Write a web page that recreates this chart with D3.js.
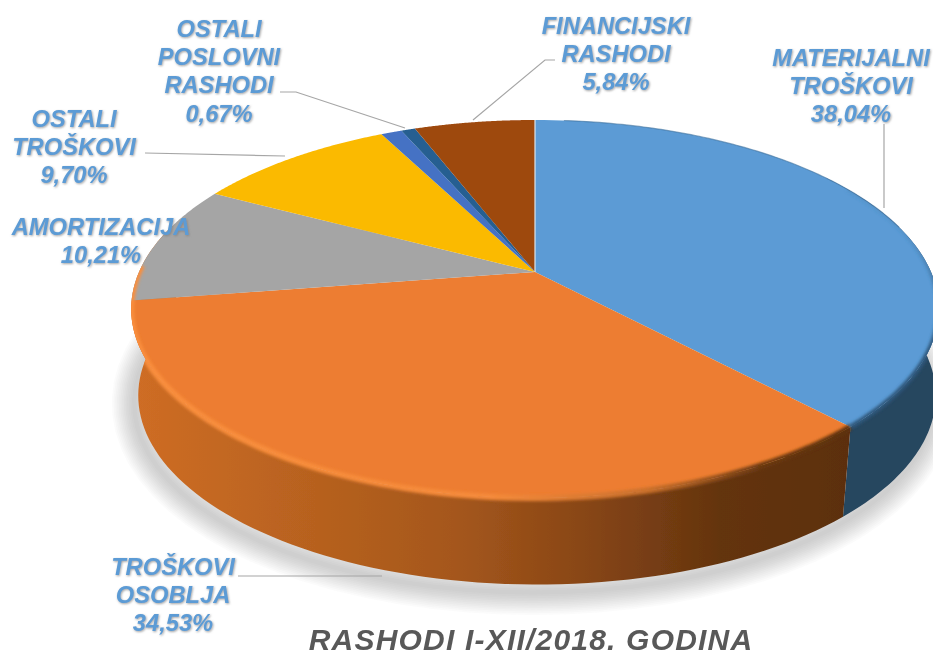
<!DOCTYPE html>
<html>
<head>
<meta charset="utf-8">
<script src="https://cdn.jsdelivr.net/npm/d3@7"></script>
<style>
html,body{margin:0;padding:0;background:#fff;overflow:hidden}
svg{display:block}
text{font-family:"Liberation Sans",Arial,sans-serif;font-weight:bold;font-style:italic}
</style>
</head>
<body>
<svg id="c" width="933" height="657"></svg>
<script>
// ---- data ----
const sliceNames = ["MATERIJALNI TROŠKOVI","TROŠKOVI OSOBLJA","AMORTIZACIJA","OSTALI TROŠKOVI","(bez oznake)","OSTALI POSLOVNI RASHODI","FINANCIJSKI RASHODI"];
const sliceValues = [38.04,34.53,10.21,9.70,1.01,0.67,5.84];
const sliceColors = ["#5B9BD5","#ED7D31","#A5A5A5","#FBBA00","#4472C4","#255E91","#9E480E"];
const titleText = "RASHODI I-XII/2018. GODINA";
const labelLines = [
  ["MATERIJALNI","TROŠKOVI","38,04%"],
  ["TROŠKOVI","OSOBLJA","34,53%"],
  ["AMORTIZACIJA","10,21%"],
  ["OSTALI","TROŠKOVI","9,70%"],
  ["OSTALI","POSLOVNI","RASHODI","0,67%"],
  ["FINANCIJSKI","RASHODI","5,84%"]
];

// ---- layout (not data) ----
const labelCentres = [[851,57],[173,566],[101,226],[74,118],[219,28],[616,25]];
const lineGap = 28.4;
const leaders = [
  [[884,124],[884,208]],
  [[238,576],[382,576]],
  [[145,153],[285,156]],
  [[280,92],[296,92],[405,128]],
  [[555,60],[545,60],[473,120]]
];
const apex = [535,272], topY = 120, frontY = 498, radiusX = 396;
const persp = (() => { const a = apex[1]-topY, b = frontY-apex[1]; return (b-a)/(b+a); })();
const radiusY = (apex[1]-topY)*(1+persp);
const wallDy = 86.5, wallScale = 0.9875, wallCx = 537;

const sx = d3.scaleLinear().domain([-1,1]).range([apex[0]-radiusX,apex[0]+radiusX]);
const sy = d3.scaleLinear().domain([-1,1]).range([apex[1]-radiusY,apex[1]+radiusY]);

// pie angle (clockwise from the top) onto the tilted disc; z = 0 top face, z = 1 bottom face
function project(angle, r, z){
  const u = Math.sin(angle)*r, v = -Math.cos(angle)*r, w = 1-persp*v;
  let x = sx(u/w), y = sy(v/w);
  if(z){ x = wallCx+(x-apex[0])*wallScale; y = y+wallDy; }
  return [x,y];
}
const samples = (a,b,n=90)=>d3.range(n+1).map(i=>a+(b-a)*i/n);
const line = d3.line();
const arcPts = (a,b,z)=>samples(a,b).map(t=>project(t,1,z));

const pie = d3.pie().sort(null).value(d=>d)(sliceValues);
const svg = d3.select("#c");
const defs = svg.append("defs");

function blur(id,sd){ defs.append("filter").attr("id",id).attr("filterUnits","userSpaceOnUse")
  .attr("x",-50).attr("y",-50).attr("width",1033).attr("height",757)
  .append("feGaussianBlur").attr("stdDeviation",sd); }
blur("bRim",1.8); blur("bSoft",0.45);
const ds = defs.append("filter").attr("id","txt").attr("x","-10%").attr("y","-20%").attr("width","120%").attr("height","140%");
ds.append("feDropShadow").attr("dx",0.8).attr("dy",1).attr("stdDeviation",0.9).attr("flood-color","#7a7a7a").attr("flood-opacity",0.7);

function hGrad(id,stops){
  const g = defs.append("linearGradient").attr("id",id).attr("gradientUnits","userSpaceOnUse")
    .attr("x1",130).attr("x2",850).attr("y1",0).attr("y2",0);
  stops.forEach(s=>g.append("stop").attr("offset",s[0]).attr("stop-color",s[1]));
}
hGrad("wallOrange",[[0,"#CF6D25"],[0.2,"#BC6420"],[0.45,"#A5571C"],[0.62,"#8A4716"],[0.82,"#64340F"],[1,"#5C2F0E"]]);
hGrad("rimOrange",[[0,"#F98E3C"],[0.5,"#F58A3A"],[0.72,"#C9702C"],[0.88,"#6A3810"],[1,"#5E320F"]]);
const vg = defs.append("linearGradient").attr("id","rimBlue").attr("gradientUnits","userSpaceOnUse")
  .attr("x1",0).attr("x2",0).attr("y1",230).attr("y2",350);
vg.append("stop").attr("offset",0).attr("stop-color","#3A6A94").attr("stop-opacity",0.15);
vg.append("stop").attr("offset",1).attr("stop-color","#2F577A").attr("stop-opacity",1);

const deg = Math.PI/180;
const seamTop = pie[0].endAngle, seamBottom = pie[0].endAngle+1.1*deg;
function wallPath(aTop,bTop,aBottom,bBottom){
  return line(arcPts(aTop,bTop,0).concat(arcPts(bBottom,aBottom,1)))+"Z";
}
const blueWallPath = wallPath(55*deg,seamTop,55*deg,seamBottom);
const orangeWallPath = wallPath(seamTop,285*deg,seamBottom,285*deg);

// the solid's outline keeps the blurred bevels from bleeding onto the page
const clip = defs.append("clipPath").attr("id","solid");
clip.append("path").attr("d",line(arcPts(0,2*Math.PI,0))+"Z");
clip.append("path").attr("d",blueWallPath);
clip.append("path").attr("d",orangeWallPath);

// soft shadow under the disc: stacked translucent outlines, widest first
const shadowSteps = d3.range(13);
svg.append("g").attr("transform","translate(-4,8)").selectAll("path").data(shadowSteps).join("path")
  .attr("d",line(arcPts(0,2*Math.PI,1))+"Z")
  .attr("fill","none").attr("stroke","#7a7a7a").attr("stroke-linejoin","round")
  .attr("stroke-opacity",0.028)
  .attr("stroke-width",d=>4+d*3.4);

const root = svg.append("g").attr("filter","url(#bSoft)");

// side walls of the two front slices
root.append("path").attr("d",blueWallPath).attr("fill","#26465F");
root.append("path").attr("d",orangeWallPath).attr("fill","url(#wallOrange)");

// top face slices
root.append("g").selectAll("path").data(pie).join("path")
  .attr("d",d=>line([apex].concat(arcPts(d.startAngle,d.endAngle,0)))+"Z")
  .attr("fill",(d,i)=>sliceColors[i]);

// bevels along the rim
const bevel = root.append("g").attr("clip-path","url(#solid)");
bevel.append("path")
  .attr("d",line(arcPts(pie[0].endAngle,272*deg,0)))
  .attr("fill","none").attr("stroke","url(#rimOrange)").attr("stroke-width",6).attr("filter","url(#bRim)");
bevel.append("path")
  .attr("d",line(arcPts(60*deg,pie[0].endAngle,0)))
  .attr("fill","none").attr("stroke","url(#rimBlue)").attr("stroke-width",5).attr("filter","url(#bRim)");
root.append("path")
  .attr("d",line(arcPts(5*deg,75*deg,0)))
  .attr("fill","none").attr("stroke","#41719C").attr("stroke-width",1.2).attr("opacity",0.6);
root.append("path")
  .attr("d",line([apex,project(0,1,0)]))
  .attr("stroke","#DDE6EE").attr("stroke-width",1.5).attr("opacity",0.8).attr("fill","none");

// leader lines
root.append("g").selectAll("path").data(leaders).join("path")
  .attr("d",d=>line(d)).attr("fill","none").attr("stroke","#A6A6A6").attr("stroke-width",1.2);

// labels
const lab = root.append("g").attr("filter","url(#txt)").attr("fill","#5B9BD5")
  .attr("font-size",23.7).attr("text-anchor","middle");
labelLines.forEach((lines,i)=>{
  lines.forEach((t,j)=>{
    lab.append("text").attr("x",labelCentres[i][0]).attr("y",labelCentres[i][1]+j*lineGap)
      .attr("dy","0.36em").text(t);
  });
});

// title
root.append("text").attr("x",531).attr("y",650)
  .attr("text-anchor","middle").attr("font-size",30).attr("letter-spacing",1.2).attr("fill","#595959").text(titleText);
</script>
</body>
</html>
